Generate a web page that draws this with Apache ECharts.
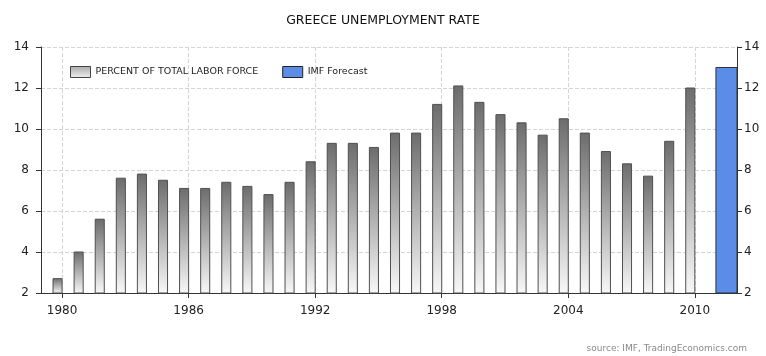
<!DOCTYPE html>
<html>
<head>
<meta charset="utf-8">
<script src="https://cdn.jsdelivr.net/npm/echarts@6/dist/echarts.min.js"></script>
<style>
  html, body { margin: 0; padding: 0; background: #fff; }
  #chart { width: 766px; height: 356px; }
</style>
</head>
<body>
<div id="chart"></div>
<script>
// data
var years = [1980, 1981, 1982, 1983, 1984, 1985, 1986, 1987, 1988, 1989,
  1990, 1991, 1992, 1993, 1994, 1995, 1996, 1997, 1998, 1999,
  2000, 2001, 2002, 2003, 2004, 2005, 2006, 2007, 2008, 2009, 2010]
var rates = [2.7, 4.0, 5.6, 7.6, 7.8, 7.5, 7.1, 7.1, 7.4, 7.2,
  6.8, 7.4, 8.4, 9.3, 9.3, 9.1, 9.8, 9.8, 11.2, 12.1,
  11.3, 10.7, 10.3, 9.7, 10.5, 9.8, 8.9, 8.3, 7.7, 9.4, 12.0]
var forecastYears = [2011]
var forecastRates = [13.0]
var yearTicks = [1980, 1986, 1992, 1998, 2004, 2010]

var grayFill = new echarts.graphic.LinearGradient(0, 0, 0, 1, [
  { offset: 0, color: '#6c6c6c' },
  { offset: 1, color: '#f8f8f8' }
])
var legendGray = new echarts.graphic.LinearGradient(0, 0, 0, 1, [
  { offset: 0, color: '#a8a8a8' },
  { offset: 1, color: '#f0f0f0' }
])

// bars sit just left of their year tick, like the original
function barItem(width, fill, stroke) {
  return function (params, api) {
    var x = api.value(0)
    var v = api.value(1)
    var top = api.coord([x - width, v])
    var base = api.coord([x, 2])
    return {
      type: 'rect',
      shape: { x: top[0], y: top[1], width: base[0] - top[0], height: base[1] - top[1] },
      style: { fill: fill, stroke: stroke, lineWidth: 1 }
    }
  }
}

var font = 'DejaVu Sans'
var chart = echarts.init(document.getElementById('chart'))
chart.setOption({
  animation: false,
  textStyle: { fontFamily: font },
  title: [
    {
      text: 'GREECE UNEMPLOYMENT RATE',
      left: 'center', top: 9,
      textStyle: { fontFamily: font, fontSize: 12.5, fontWeight: 'normal', color: '#111' }
    },
    {
      text: 'source: IMF, TradingEconomics.com',
      right: 14, top: 339,
      textStyle: { fontFamily: font, fontSize: 9, fontWeight: 'normal', color: '#888' }
    }
  ],
  legend: {
    left: 65, top: 61,
    itemWidth: 20, itemHeight: 11, itemGap: 24,
    textStyle: { fontFamily: font, fontSize: 9.5, color: '#222' },
    data: [
      { name: 'PERCENT OF TOTAL LABOR FORCE', icon: 'rect',
        itemStyle: { color: legendGray, borderColor: '#444', borderWidth: 1 } },
      { name: 'IMF Forecast', icon: 'rect',
        itemStyle: { color: '#5b8de8', borderColor: '#222', borderWidth: 1 } }
    ]
  },
  grid: { left: 41, right: 29, top: 47, bottom: 63 },
  xAxis: {
    type: 'value', min: 1979, max: 2012,
    axisLine: { lineStyle: { color: '#333' } },
    axisTick: { length: 5, customValues: yearTicks, lineStyle: { color: '#333' } },
    axisLabel: {
      customValues: yearTicks, fontSize: 12, color: '#222', margin: 12,
      formatter: function (v) { return String(v) }
    },
    splitLine: { show: true, lineStyle: { color: '#d4d4d4', type: 'dashed' } }
  },
  yAxis: [
    {
      type: 'value', min: 2, max: 14, interval: 2, position: 'left',
      axisLine: { show: true, lineStyle: { color: '#333' } },
      axisTick: { show: true, length: 5, lineStyle: { color: '#333' } },
      axisLabel: { fontSize: 12, color: '#222', margin: 12 },
      splitLine: { lineStyle: { color: '#d4d4d4', type: 'dashed' } }
    },
    {
      type: 'value', min: 2, max: 14, interval: 2, position: 'right',
      axisLine: { show: true, lineStyle: { color: '#333' } },
      axisTick: { show: true, length: 5, lineStyle: { color: '#333' } },
      axisLabel: { fontSize: 12, color: '#222', margin: 7 },
      splitLine: { show: false }
    }
  ],
  series: [
    {
      name: 'PERCENT OF TOTAL LABOR FORCE',
      type: 'custom',
      renderItem: barItem(0.43, grayFill, '#505050'),
      itemStyle: { color: legendGray },
      encode: { x: 0, y: 1 },
      data: years.map(function (y, i) { return [y, rates[i]] })
    },
    {
      name: 'IMF Forecast',
      type: 'custom',
      renderItem: function (params, api) {
        var x = api.value(0)
        var top = api.coord([x, api.value(1)])
        var base = api.coord([x + 1, 2])
        return {
          type: 'rect',
          shape: { x: top[0], y: top[1], width: base[0] - top[0], height: base[1] - top[1] },
          style: { fill: '#5b8de8', stroke: '#333', lineWidth: 1 }
        }
      },
      itemStyle: { color: '#5b8de8' },
      encode: { x: 0, y: 1 },
      data: forecastYears.map(function (y, i) { return [y, forecastRates[i]] })
    }
  ]
})
</script>
</body>
</html>
